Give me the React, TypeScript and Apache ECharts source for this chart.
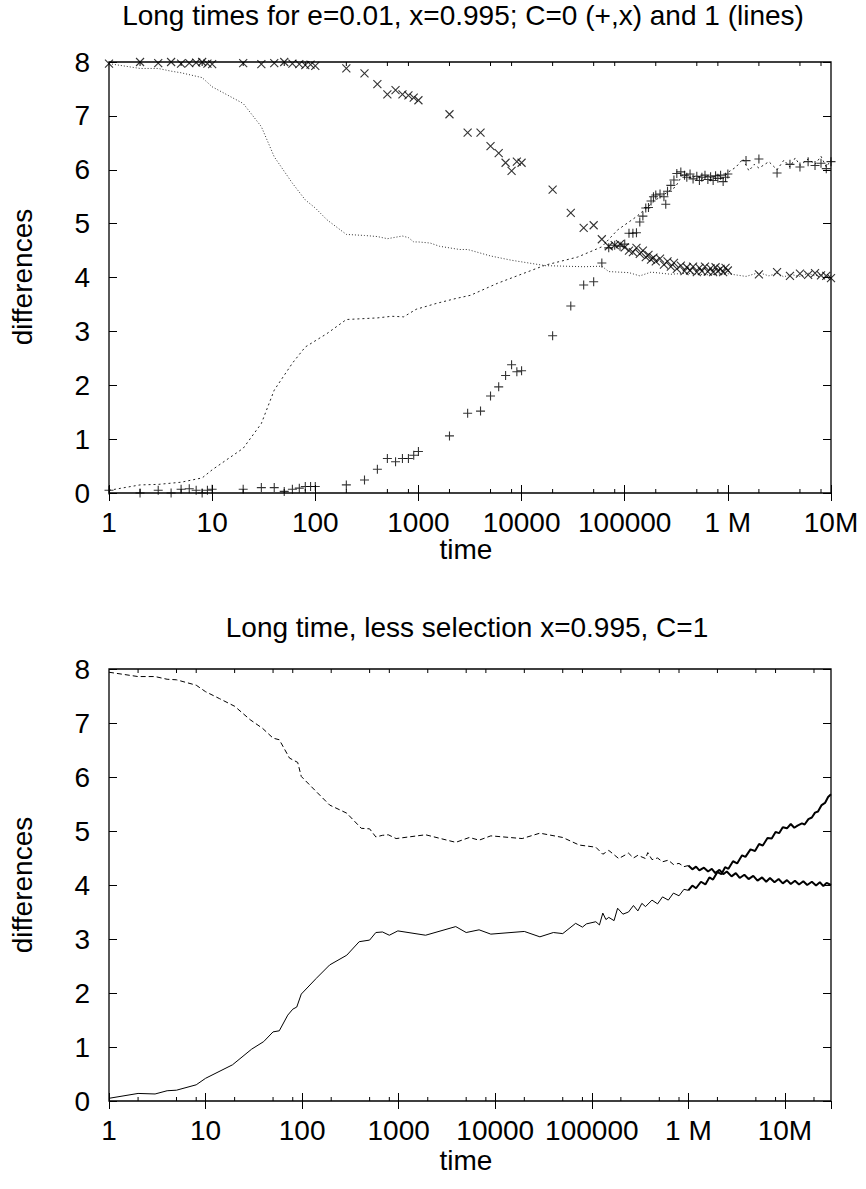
import React, { useEffect, useRef } from "react";
import * as echarts from "echarts";

const FONT = "'Liberation Sans', Arial, sans-serif";

// tick labels for the decades 10^0 .. 10^7
const decadeLabels = ["1", "10", "100", "1000", "10000", "100000", "1 M", "10M"];
const yTicks = [0, 1, 2, 3, 4, 5, 6, 7, 8];
const minorTicksTop = [2, 5, 8, 20, 50, 80, 200, 500, 800, 2000, 5000, 8000, 20000, 50000, 80000, 200000, 500000, 800000, 2000000, 5000000, 8000000];
const minorTicksBottom = [2, 5, 8, 20, 50, 80, 200, 500, 800, 2000, 5000, 8000, 20000, 50000, 80000, 200000, 500000, 800000, 2000000, 5000000, 8000000, 20000000];

const titleTop = "Long times for e=0.01, x=0.995; C=0 (+,x) and 1 (lines)";
const titleBottom = "Long time, less selection x=0.995, C=1";
const xName = "time";
const yName = "differences";

// ---- top chart: C=0 points ----
const topCross: number[][] = [
  [1, 7.97], [2, 8.0], [3, 7.98], [4, 8.0], [5, 7.97], [6, 7.98], [7, 7.99], [8, 8.0], [9, 7.97], [10, 7.96],
  [20, 7.98], [30, 7.96], [40, 7.98], [50, 8.0], [60, 7.97], [70, 7.96], [80, 7.94], [90, 7.95], [100, 7.93],
  [200, 7.88], [300, 7.79], [400, 7.59], [500, 7.4], [600, 7.48], [700, 7.4], [800, 7.38], [900, 7.34], [1000, 7.29],
  [2000, 7.03], [3000, 6.69], [4000, 6.69], [5000, 6.44], [6000, 6.31], [7000, 6.13], [8000, 5.98], [9000, 6.15], [10000, 6.13],
  [20000, 5.63], [30000, 5.2], [40000, 4.92], [50000, 4.97], [60000, 4.71], [70000, 4.58], [80000, 4.6], [90000, 4.62], [100000, 4.56],
  [110000, 4.5], [120000, 4.47], [130000, 4.55], [140000, 4.44], [150000, 4.5], [160000, 4.38], [170000, 4.42], [180000, 4.33],
  [190000, 4.37], [200000, 4.3], [220000, 4.35], [240000, 4.24], [260000, 4.3], [280000, 4.2], [300000, 4.27], [320000, 4.16],
  [350000, 4.22], [380000, 4.12], [400000, 4.19], [430000, 4.13], [460000, 4.2], [500000, 4.1], [530000, 4.18], [560000, 4.12],
  [600000, 4.2], [640000, 4.11], [680000, 4.17], [720000, 4.1], [760000, 4.19], [800000, 4.12], [850000, 4.16], [900000, 4.1],
  [950000, 4.18], [1000000, 4.13],
  [2000000, 4.06], [3000000, 4.1], [4000000, 4.03], [5000000, 4.07], [6000000, 4.05], [7000000, 4.08], [8000000, 4.04], [9000000, 4.03], [10000000, 3.99],
];
const topPlus: number[][] = [
  [1, 0.05], [2, 0.0], [3, 0.05], [4, 0.0], [5, 0.07], [6, 0.08], [7, 0.05], [8, 0.0], [9, 0.05], [10, 0.07],
  [20, 0.07], [30, 0.1], [40, 0.1], [50, 0.03], [60, 0.07], [70, 0.09], [80, 0.12], [90, 0.12], [100, 0.12],
  [200, 0.15], [300, 0.24], [400, 0.44], [500, 0.64], [600, 0.58], [700, 0.64], [800, 0.64], [900, 0.7], [1000, 0.77],
  [2000, 1.06], [3000, 1.48], [4000, 1.52], [5000, 1.8], [6000, 1.97], [7000, 2.18], [8000, 2.38], [9000, 2.25], [10000, 2.27],
  [20000, 2.92], [30000, 3.47], [40000, 3.86], [50000, 3.92], [60000, 4.27], [70000, 4.55], [80000, 4.6], [90000, 4.58], [100000, 4.62],
  [110000, 4.82], [120000, 4.82], [130000, 4.83], [140000, 5.03], [150000, 5.14], [160000, 5.29], [170000, 5.3], [180000, 5.42],
  [190000, 5.5], [200000, 5.53], [220000, 5.55], [240000, 5.5], [250000, 5.36], [260000, 5.6], [280000, 5.71], [300000, 5.81],
  [320000, 5.93], [350000, 5.96], [380000, 5.9], [400000, 5.86], [430000, 5.92], [460000, 5.83], [500000, 5.88], [530000, 5.8],
  [560000, 5.86], [600000, 5.9], [640000, 5.82], [680000, 5.87], [720000, 5.8], [760000, 5.89], [800000, 5.84], [850000, 5.9],
  [900000, 5.78], [950000, 5.86], [1000000, 5.92],
  [1500000, 6.17], [2000000, 6.2], [3000000, 5.94], [4000000, 6.1], [5000000, 6.05], [6000000, 6.15], [7000000, 6.08], [8000000, 6.12], [9000000, 6.02], [10000000, 6.15],
];
// ---- top chart: C=1 lines ----
const topLineUp: number[][] = [
  [1, 7.97], [2, 7.88], [3, 7.88], [4, 7.83], [5, 7.8], [8, 7.71], [10, 7.54], [20, 7.23], [30, 6.8], [40, 6.24],
  [60, 5.75], [80, 5.44], [100, 5.29], [130, 5.07], [200, 4.8], [300, 4.78], [400, 4.76], [500, 4.72], [700, 4.77],
  [800, 4.74], [900, 4.66], [1000, 4.66], [1300, 4.64], [1600, 4.58], [2500, 4.52], [3000, 4.52], [5000, 4.4], [8000, 4.32],
  [17000, 4.22], [40000, 4.2], [60000, 4.21], [70000, 4.11], [110000, 4.09], [140000, 4.03], [180000, 4.1], [280000, 4.06],
  [400000, 4.08], [600000, 4.05], [1000000, 4.07], [1500000, 4.02], [2000000, 4.09], [2500000, 4.03], [3000000, 4.08],
  [3500000, 4.01], [4000000, 4.06], [5000000, 4.02], [6000000, 4.08], [7000000, 4.03], [8000000, 4.06], [9000000, 4.01], [10000000, 4.04],
];
const topLineLow: number[][] = [
  [1, 0.05], [2, 0.15], [3, 0.16], [5, 0.2], [8, 0.28], [10, 0.43], [20, 0.83], [30, 1.29], [40, 1.91], [60, 2.41],
  [80, 2.71], [130, 2.96], [200, 3.22], [400, 3.25], [550, 3.28], [720, 3.27], [950, 3.41], [1500, 3.52], [2300, 3.61],
  [3200, 3.67], [5800, 3.89], [17000, 4.23], [35000, 4.38], [60000, 4.57], [85000, 4.88], [130000, 5.13], [200000, 5.44],
  [310000, 5.68], [370000, 5.93], [400000, 5.88], [450000, 5.84], [500000, 5.9], [550000, 5.82], [600000, 5.88], [700000, 5.85],
  [800000, 5.91], [900000, 5.83], [1000000, 5.95], [1200000, 6.05], [1400000, 6.2], [1600000, 5.98], [1800000, 6.1],
  [2000000, 6.03], [2500000, 6.15], [3000000, 6.0], [3500000, 6.18], [4000000, 6.05], [4500000, 6.22], [5000000, 6.08],
  [6000000, 6.2], [7000000, 6.1], [8000000, 6.25], [9000000, 6.05], [10000000, 6.18],
];

// ---- bottom chart: C=1, less selection ----
const botUp: number[][] = [
  [1, 7.94], [2, 7.86], [3, 7.86], [4, 7.81], [5, 7.8], [8, 7.7], [10, 7.58], [14, 7.45], [20, 7.31], [29, 7.06],
  [39, 6.9], [50, 6.72], [58, 6.69], [74, 6.35], [90, 6.27], [98, 6.01], [140, 5.73], [193, 5.48], [290, 5.33],
  [410, 5.05], [500, 5.04], [580, 4.89], [680, 4.92], [780, 4.93], [940, 4.86], [1900, 4.93], [3900, 4.79],
  [5400, 4.88], [6800, 4.83], [9000, 4.91], [19000, 4.86], [29000, 4.96], [50000, 4.88], [74000, 4.74],
  [110000, 4.7], [130000, 4.57], [150000, 4.64], [190000, 4.49], [240000, 4.59], [270000, 4.5], [300000, 4.55],
  [360000, 4.49], [380000, 4.6], [420000, 4.47], [480000, 4.5], [540000, 4.43], [620000, 4.46], [700000, 4.38],
  [800000, 4.4], [900000, 4.34], [1000000, 4.36],
];
const botUpTail: number[][] = [
  [1000000, 4.36], [1100000, 4.29], [1200000, 4.34], [1300000, 4.27], [1450000, 4.32], [1600000, 4.25], [1750000, 4.3],
  [1900000, 4.22], [2100000, 4.28], [2300000, 4.2], [2500000, 4.25], [2800000, 4.16], [3100000, 4.22], [3400000, 4.13],
  [3800000, 4.19], [4200000, 4.11], [4700000, 4.17], [5200000, 4.08], [5800000, 4.14], [6400000, 4.06], [7000000, 4.13],
  [7800000, 4.05], [8600000, 4.11], [9500000, 4.03], [10500000, 4.09], [11500000, 4.02], [12700000, 4.08], [14000000, 4.01],
  [15500000, 4.07], [17000000, 4.0], [19000000, 4.06], [21000000, 3.99], [23000000, 4.05], [25000000, 3.98], [27000000, 4.04],
  [30000000, 4.0],
];
const botLow: number[][] = [
  [1, 0.05], [2, 0.14], [3, 0.13], [4, 0.19], [5, 0.2], [8, 0.3], [10, 0.42], [19, 0.67], [30, 0.96], [40, 1.1],
  [50, 1.28], [58, 1.3], [71, 1.59], [80, 1.7], [88, 1.74], [98, 1.98], [140, 2.27], [193, 2.52], [290, 2.7],
  [390, 2.95], [500, 2.98], [580, 3.12], [680, 3.13], [800, 3.07], [980, 3.15], [1900, 3.07], [3900, 3.23],
  [5000, 3.12], [6800, 3.17], [9000, 3.09], [20000, 3.14], [29000, 3.04], [40000, 3.12], [50000, 3.1], [68000, 3.29],
  [80000, 3.22], [88000, 3.28], [110000, 3.32], [120000, 3.26], [130000, 3.48], [140000, 3.36], [150000, 3.4],
  [170000, 3.34], [185000, 3.57], [210000, 3.46], [240000, 3.5], [270000, 3.62], [300000, 3.52], [330000, 3.66],
  [360000, 3.6], [420000, 3.72], [480000, 3.65], [540000, 3.78], [620000, 3.72], [700000, 3.85], [800000, 3.8],
  [900000, 3.92], [1000000, 3.9],
];
const botLowTail: number[][] = [
  [1000000, 3.9], [1100000, 3.99], [1200000, 3.94], [1350000, 4.06], [1500000, 4.01], [1650000, 4.14], [1800000, 4.1],
  [2000000, 4.24], [2200000, 4.2], [2400000, 4.33], [2600000, 4.3], [2900000, 4.44], [3200000, 4.4], [3600000, 4.55],
  [3900000, 4.52], [4400000, 4.66], [4900000, 4.63], [5400000, 4.76], [5900000, 4.73], [6600000, 4.87], [7300000, 4.86],
  [8000000, 4.98], [8700000, 4.96], [9500000, 5.07], [10500000, 5.05], [11500000, 5.13], [12500000, 5.06], [13500000, 5.1],
  [15000000, 5.14], [16000000, 5.12], [17500000, 5.22], [19000000, 5.25], [20500000, 5.34], [22000000, 5.36],
  [24000000, 5.48], [26000000, 5.52], [28000000, 5.63], [30000000, 5.68],
];

const PLUS = "path://M0,5L10,5M5,0L5,10";
const CROSS = "path://M0,0L10,10M10,0L0,10";

function decadeFormatter(v: number) {
  const e = Math.log10(v);
  const r = Math.round(e);
  if (Math.abs(e - r) > 1e-6) return "";
  return decadeLabels[r] ?? "";
}

export default function App() {
  const ref = useRef<HTMLDivElement>(null);
  useEffect(() => {
    if (!ref.current) return;
    const chart = echarts.init(ref.current, undefined, { renderer: "svg" });

    const grids = [
      { left: 109, top: 62, width: 722, height: 431 },
      { left: 109, top: 669, width: 722, height: 432 },
    ];
    const xMax = [10000000, 30000000];

    const xAxes: any[] = [];
    const yAxes: any[] = [];
    [0, 1].forEach((g) => {
      const tick = { show: true, inside: true, length: 8, lineStyle: { color: "#000", width: 1 } };
      xAxes.push({
        type: "log", logBase: 10, gridIndex: g, min: 1, max: xMax[g], position: "bottom",
        axisLine: { show: false }, axisTick: tick, splitLine: { show: false },
        axisLabel: {
          formatter: decadeFormatter, color: "#000", fontSize: 28, fontFamily: FONT, margin: 15,
          showMaxLabel: g === 0, showMinLabel: true,
        },
      });
      xAxes.push({
        type: "log", logBase: 10, gridIndex: g, min: 1, max: xMax[g], position: "top",
        axisLine: { show: false }, axisTick: tick, splitLine: { show: false }, axisLabel: { show: false },
      });
      yAxes.push({
        type: "value", gridIndex: g, min: yTicks[0], max: yTicks[yTicks.length - 1], interval: 1, position: "left",
        axisLine: { show: false }, axisTick: tick, splitLine: { show: false },
        axisLabel: { color: "#000", fontSize: 28, fontFamily: FONT, margin: 19 },
      });
      yAxes.push({
        type: "value", gridIndex: g, min: 0, max: 8, interval: 1, position: "right",
        axisLine: { show: false }, axisTick: tick, splitLine: { show: false }, axisLabel: { show: false },
      });
    });

    const minorSeries = (ticks: number[], g: number) => ({
      type: "custom",
      xAxisIndex: g * 2,
      yAxisIndex: g * 2,
      silent: true,
      clip: false,
      data: ticks.map((t) => [t, 0]),
      renderItem: (params: any, api: any) => {
        const x = api.value(0);
        const pb = api.coord([x, 0]);
        const pt = api.coord([x, 8]);
        return {
          type: "group",
          children: [
            { type: "line", shape: { x1: pb[0], y1: pb[1], x2: pb[0], y2: pb[1] - 4 }, style: { stroke: "#000", lineWidth: 1 } },
            { type: "line", shape: { x1: pt[0], y1: pt[1], x2: pt[0], y2: pt[1] + 4 }, style: { stroke: "#000", lineWidth: 1 } },
          ],
        };
      },
    });

    const pointStyle = { color: "none", borderColor: "#000", borderWidth: 1.1 };
    const line = (data: number[][], g: number, lineStyle: any, z = 3) => ({
      type: "line", xAxisIndex: g * 2, yAxisIndex: g * 2, data, showSymbol: false, symbol: "none",
      lineStyle, z, silent: true,
    });

    const textStyle = (text: string, x: number, y: number, rotation = 0) => ({
      type: "text", x, y, rotation,
      style: { text, fill: "#000", font: `28px ${FONT}`, textAlign: "center", textVerticalAlign: "middle" },
    });

    chart.setOption({
      animation: false,
      backgroundColor: "#fff",
      grid: grids.map((g) => ({ ...g, show: true, borderColor: "#000", borderWidth: 1.3, backgroundColor: "transparent" })),
      xAxis: xAxes,
      yAxis: yAxes,
      graphic: [
        textStyle(titleTop, 463, 15),
        textStyle(titleBottom, 467, 627),
        textStyle(xName, 466, 549),
        textStyle(xName, 466, 1160),
        textStyle(yName, 22, 277, Math.PI / 2),
        textStyle(yName, 22, 885, Math.PI / 2),
      ],
      series: [
        minorSeries(minorTicksTop, 0),
        minorSeries(minorTicksBottom, 1),
        line(topLineUp, 0, { color: "#333", width: 1, type: [1, 2] }),
        line(topLineLow, 0, { color: "#222", width: 1, type: [2, 3] }),
        {
          type: "scatter", xAxisIndex: 0, yAxisIndex: 0, data: topPlus, symbol: PLUS, symbolSize: 9,
          itemStyle: pointStyle, silent: true, z: 4,
        },
        {
          type: "scatter", xAxisIndex: 0, yAxisIndex: 0, data: topCross, symbol: CROSS, symbolSize: 8,
          itemStyle: pointStyle, silent: true, z: 4,
        },
        line(botUp, 1, { color: "#000", width: 1, type: [5, 3] }),
        line(botUpTail, 1, { color: "#000", width: 2, type: "solid" }),
        line(botLow, 1, { color: "#000", width: 1, type: "solid" }),
        line(botLowTail, 1, { color: "#000", width: 2, type: "solid" }),
      ],
    });
    return () => chart.dispose();
  }, []);
  return <div ref={ref} style={{ position: "absolute", left: 0, top: 0, width: 866, height: 1189 }} />;
}
